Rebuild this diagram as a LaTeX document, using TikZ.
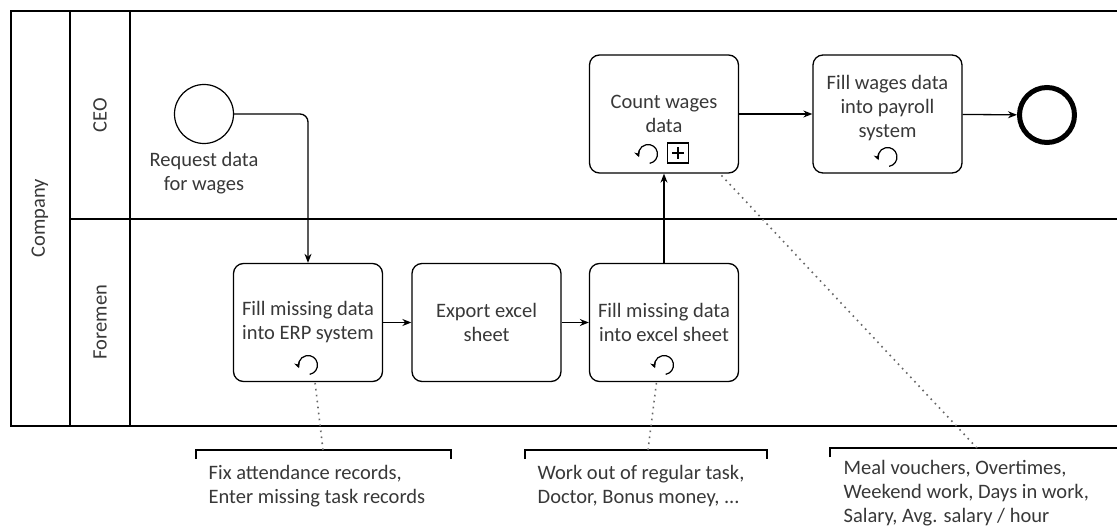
\documentclass[tikz,border=0pt]{standalone}
\usepackage{fontspec}
\setmainfont{Carlito}
\usetikzlibrary{arrows.meta}
\definecolor{txt}{HTML}{383838}
\begin{document}
\begin{tikzpicture}[x=1pt,y=-1pt,line width=1.3pt,
  lbl/.style={text=txt,font=\fontsize{20.5}{24}\selectfont,align=center,inner sep=0pt},
  note/.style={text=txt,font=\fontsize{20.5}{24}\selectfont,align=left,inner sep=0pt,anchor=north west},
  task/.style={draw,rounded corners=10pt,minimum width=149pt,minimum height=118pt,inner sep=0pt,
    text=txt,font=\fontsize{20.5}{24}\selectfont,align=center},
  flow/.style={-{Stealth[length=9pt,width=7pt]},line width=1.3pt},
  assoc/.style={line width=1.6pt,black!60,dash pattern=on 1.6pt off 4.4pt},
  loopmark/.pic={\draw[line width=1.2pt,-{Stealth[length=6pt,width=6pt]}]
    (80:9.5) arc[start angle=80,end angle=-200,radius=9.5];},
  submark/.pic={\draw[line width=1.2pt] (-10.5,-10) rectangle (10.5,10);
    \draw[line width=2.6pt] (-6,0) -- (6,0) (0,-6) -- (0,6);}
]
\useasboundingbox (0,0) rectangle (1117,532);

% pool and lanes
\draw (1117,11) -- (11,11) -- (11,426) -- (1117,426);
\draw (70,11) -- (70,426);
\draw (130,11) -- (130,426);
\draw (70,219) -- (1117,219);
\node[lbl,rotate=90] (pool) at (40,218) {Company};
\node[lbl,rotate=90] (laneA) at (100,115) {CEO};
\node[lbl,rotate=90] (laneB) at (100,322) {Foremen};

% events
\node[draw,circle,minimum size=59pt,inner sep=0pt,line width=1.2pt] (start) at (204,114) {};
\node[lbl] (startlbl) at (204,173) {Request data\\for wages};
\node[draw,circle,minimum size=55pt,inner sep=0pt,line width=5pt] (end) at (1047,115) {};

% tasks
\node[task] (t1) at (308,322.5) {Fill missing data\\into ERP system};
\node[task] (t2) at (486.5,322.5) {Export excel\\sheet};
\node[task] (t3) at (664,322.5) {Fill missing data\\into excel sheet};
\node[task] (t4) at (664,114) {Count wages\\data};
\node[task] (t5) at (887.5,114) {};
\node[lbl] (t5lbl) at (887.5,108) {Fill wages data\\into payroll\\system};

% task markers
\pic at (308,365) {loopmark};
\pic at (664,365) {loopmark};
\pic at (887.5,157) {loopmark};
\pic at (648,154) {loopmark};
\pic at (678,153) {submark};

% sequence flows
\draw[flow,rounded corners=8pt] (start.east) -| (t1.north);
\draw[flow] (t1) -- (t2);
\draw[flow] (t2) -- (t3);
\draw[flow] (t3) -- (t4);
\draw[flow] (t4) -- (t5);
\draw[flow] (t5) -- (end);

% annotations
\coordinate (a1) at (323,450);
\coordinate (a2) at (648,450);
\coordinate (a3) at (977,448);
\draw (196,459) -- (196,450) -- (451,450) -- (451,459);
\draw (525,459) -- (525,450) -- (767,450) -- (767,459);
\draw (830,457) -- (830,448) -- (1117,448);
\node[note] (n1) at (208,465) {Fix attendance records,\\Enter missing task records};
\node[note] (n2) at (537,465) {Work out of regular task,\\Doctor, Bonus money, ...};
\node[note] (n3) at (843,460) {Meal vouchers, Overtimes,\\Weekend work, Days in work,\\Salary, Avg. salary / hour};
\draw[assoc] (a1) -- (t1);
\draw[assoc] (a2) -- (t3);
\draw[assoc] (a3) -- (t4);
\end{tikzpicture}
\end{document}
